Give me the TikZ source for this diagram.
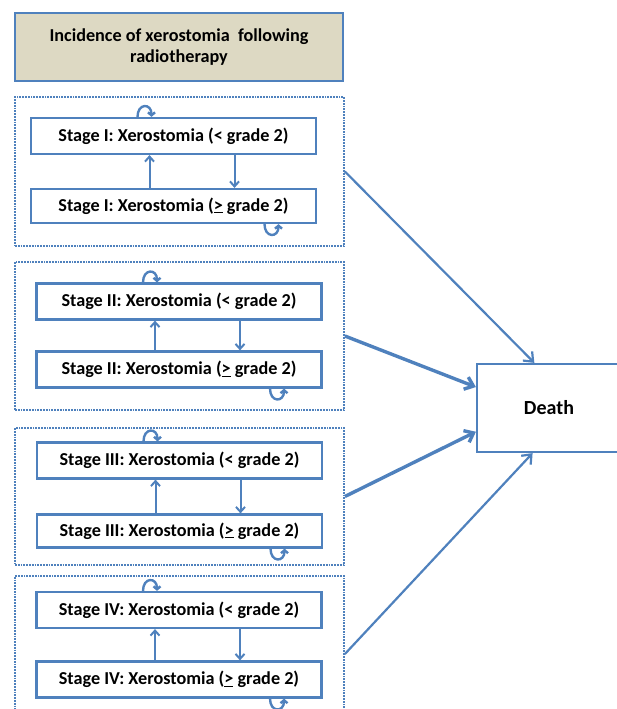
\documentclass[tikz,border=0pt]{standalone}
\usepackage{fontspec}
\setmainfont{Carlito}
\usetikzlibrary{arrows.meta}
\definecolor{xblue}{RGB}{79,129,189}
\definecolor{xtan}{RGB}{221,217,195}

\begin{document}
\begin{tikzpicture}[x=1pt,y=-1pt]
    \tikzset{stagebox/.style={draw=xblue, fill=white, line width=2.2pt, minimum width=285pt,
            minimum height=36pt, inner sep=0pt, font=\fontsize{18.2}{21}\selectfont\bfseries},
        groupbox/.style={draw=xblue, densely dotted, line width=1.8pt, minimum width=329pt,
            minimum height=#1, inner sep=0pt},
        updown/.style={draw=xblue, line width=2pt, -{Straight Barb[length=5pt,width=9pt]}},
        selfloop/.style={draw=xblue, line width=2.4pt, -{Straight Barb[length=3pt,width=7pt]}},
        todeath/.style={draw=xblue, line width=#1, -{Straight Barb[length=8pt,width=13pt]}},
        todeath/.default={2.2pt}}
    \useasboundingbox (0,0) rectangle (616,709);

    %Titel
    \node[draw=xblue, fill=xtan, line width=2.2pt, minimum width=328pt, minimum height=68pt,
        align=center, font=\fontsize{18.2}{21}\selectfont\bfseries] (title) at (179,47)
        {Incidence of xerostomia\ \ following\\radiotherapy};

    %Gruppen
    \node[groupbox=149pt] (g1) at (179.5,171.5) {};
    \node[groupbox=148pt] (g2) at (179.5,336)   {};
    \node[groupbox=137pt] (g3) at (179.5,496.5) {};
    \node[groupbox=156pt] (g4) at (179.5,654)   {};

    %Stage I
    \node[stagebox] (s1a) at (173.5,136) {Stage I: Xerostomia (< grade 2)};
    \node[stagebox, minimum height=34pt] (s1b) at (173.5,206) {Stage I: Xerostomia (\underline{>} grade 2)};
    \draw[updown] ([xshift=-24pt]s1b.north) -- ([xshift=-24pt]s1a.south);
    \draw[updown] ([xshift=61pt]s1a.south)  -- ([xshift=61pt]s1b.north);
    \draw[selfloop] ([xshift=-36pt]s1a.north) .. controls +(0,-14) and +(0,-14) .. ([xshift=-22pt]s1a.north);
    \draw[selfloop] ([xshift=91pt]s1b.south)  .. controls +(0,14) and +(0,14)   .. ([xshift=105pt]s1b.south);

    %Stage II
    \node[stagebox] (s2a) at (179,301.5) {Stage II: Xerostomia (< grade 2)};
    \node[stagebox] (s2b) at (179,369.5) {Stage II: Xerostomia (\underline{>} grade 2)};
    \draw[updown] ([xshift=-24pt]s2b.north) -- ([xshift=-24pt]s2a.south);
    \draw[updown] ([xshift=61pt]s2a.south)  -- ([xshift=61pt]s2b.north);
    \draw[selfloop] ([xshift=-36pt]s2a.north) .. controls +(0,-14) and +(0,-14) .. ([xshift=-22pt]s2a.north);
    \draw[selfloop] ([xshift=91pt]s2b.south)  .. controls +(0,14) and +(0,14)   .. ([xshift=105pt]s2b.south);

    %Stage III
    \node[stagebox] (s3a) at (179.5,460.5) {Stage III: Xerostomia (< grade 2)};
    \node[stagebox, minimum height=33pt] (s3b) at (179.5,531) {Stage III: Xerostomia (\underline{>} grade 2)};
    \draw[updown] ([xshift=-24pt]s3b.north) -- ([xshift=-24pt]s3a.south);
    \draw[updown] ([xshift=61pt]s3a.south)  -- ([xshift=61pt]s3b.north);
    \draw[selfloop] ([xshift=-36pt]s3a.north) .. controls +(0,-14) and +(0,-14) .. ([xshift=-22pt]s3a.north);
    \draw[selfloop] ([xshift=91pt]s3b.south)  .. controls +(0,14) and +(0,14)   .. ([xshift=105pt]s3b.south);

    %Stage IV
    \node[stagebox] (s4a) at (179,610)   {Stage IV: Xerostomia (< grade 2)};
    \node[stagebox] (s4b) at (179,679.5) {Stage IV: Xerostomia (\underline{>} grade 2)};
    \draw[updown] ([xshift=-24pt]s4b.north) -- ([xshift=-24pt]s4a.south);
    \draw[updown] ([xshift=61pt]s4a.south)  -- ([xshift=61pt]s4b.north);
    \draw[selfloop] ([xshift=-36pt]s4a.north) .. controls +(0,-14) and +(0,-14) .. ([xshift=-22pt]s4a.north);
    \draw[selfloop] ([xshift=91pt]s4b.south)  .. controls +(0,14) and +(0,14)   .. ([xshift=105pt]s4b.south);

    %Tod
    \node[draw=xblue, line width=2.2pt, minimum width=144pt, minimum height=88pt,
        font=\fontsize{20}{24}\selectfont\bfseries] (death) at (549,408) {Death};
    \draw[todeath]       (g1.east) -- (death.108);
    \draw[todeath=3.4pt] (g2.east) -- (death.164);
    \draw[todeath=3.4pt] (g3.east) -- (death.198);
    \draw[todeath]       (g4.east) -- (death.250);

\end{tikzpicture}
\end{document}
